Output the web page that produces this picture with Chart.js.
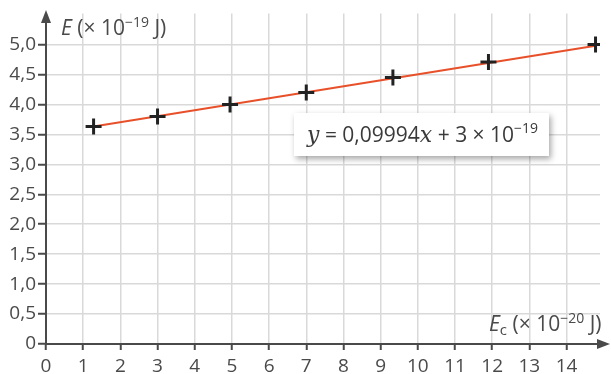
<!DOCTYPE html>
<html>
<head>
<meta charset="utf-8">
<script src="https://cdn.jsdelivr.net/npm/chart.js@4"></script>
<style>
  html, body { margin: 0; padding: 0; background: #fff; }
  #wrap { width: 611px; height: 374px; position: relative; }
</style>
</head>
<body>
<div id="wrap"><canvas id="chart"></canvas></div>
<script>
// measured points: Ec (x 10^-20 J) and E (x 10^-19 J)
var ecValues = [1.28, 3.0, 4.95, 7.0, 9.33, 11.9, 14.78];
var eValues = [3.63, 3.80, 4.00, 4.20, 4.45, 4.71, 5.00];
// ends of the fitted line
var fitX = [1.28, 14.78];
var fitY = [3.63, 4.98];
var xTicks = [0, 1, 2, 3, 4, 5, 6, 7, 8, 9, 10, 11, 12, 13, 14];
var yTicks = [0, 0.5, 1, 1.5, 2, 2.5, 3, 3.5, 4, 4.5, 5];

var labelFont = '"Open Sans", sans-serif';
var textColor = "#4a4a4a";

var points = ecValues.map(function (x, i) { return { x: x, y: eValues[i] }; });
var fitLine = fitX.map(function (x, i) { return { x: x, y: fitY[i] }; });

var fmt = function (v) {
    if (v === 0) return "0";
    return v.toFixed(1).replace(".", ",");
};

// draws text pieces one after another: [text, style, dy]
var drawRuns = function (ctx, x, y, runs) {
    runs.forEach(function (r) {
        ctx.font = r[1];
        ctx.fillText(r[0], x, y + (r[2] || 0));
        x += ctx.measureText(r[0]).width;
    });
};

var decorations = {
    id: "decorations",
    afterDraw: function (chart) {
        var ctx = chart.ctx;
        var xs = chart.scales.x, ys = chart.scales.y;
        var x0 = xs.getPixelForValue(0), y0 = ys.getPixelForValue(0);
        ctx.save();
        // axes
        ctx.strokeStyle = "#4a4a4a";
        ctx.fillStyle = "#4a4a4a";
        ctx.lineWidth = 2;
        ctx.beginPath();
        ctx.moveTo(x0, y0 + 1);
        ctx.lineTo(x0, 20);
        ctx.moveTo(x0 - 1, y0);
        ctx.lineTo(600, y0);
        ctx.stroke();
        ctx.beginPath();
        ctx.moveTo(x0, 10);
        ctx.lineTo(x0 - 5, 23);
        ctx.lineTo(x0 + 5, 23);
        ctx.closePath();
        ctx.fill();
        ctx.beginPath();
        ctx.moveTo(610, y0);
        ctx.lineTo(597, y0 - 5);
        ctx.lineTo(597, y0 + 5);
        ctx.closePath();
        ctx.fill();

        // axis titles
        ctx.fillStyle = textColor;
        ctx.textBaseline = "alphabetic";
        ctx.textAlign = "left";
        drawRuns(ctx, 61, 35, [
            ["E", "italic 21px " + labelFont],
            [" (\u00d7 10", "21px " + labelFont],
            ["\u221219", "14px " + labelFont, -8],
            [" J)", "21px " + labelFont]
        ]);
        drawRuns(ctx, 489, 331, [
            ["E", "italic 21px " + labelFont],
            ["c", "15px " + labelFont, 4],
            [" (\u00d7 10", "21px " + labelFont],
            ["\u221220", "14px " + labelFont, -8],
            [" J)", "21px " + labelFont]
        ]);

        // equation box
        ctx.shadowColor = "rgba(0,0,0,0.35)";
        ctx.shadowBlur = 6;
        ctx.shadowOffsetX = 2;
        ctx.shadowOffsetY = 3;
        ctx.fillStyle = "#fff";
        ctx.fillRect(294, 113, 255, 43);
        ctx.shadowColor = "transparent";
        ctx.fillStyle = "#3a3a3a";
        drawRuns(ctx, 307, 142, [
            ["y", "italic 22px \"DejaVu Serif\", serif"],
            [" = 0,09994", "21px " + labelFont],
            ["x", "italic 22px \"DejaVu Serif\", serif"],
            [" + 3 \u00d7 10", "21px " + labelFont],
            ["\u221219", "14px " + labelFont, -9]
        ]);
        ctx.restore();
    }
};

new Chart(document.getElementById("chart"), {
    type: "scatter",
    data: {
        datasets: [
            {
                type: "line",
                data: fitLine,
                borderColor: "#e8502a",
                borderWidth: 2,
                pointRadius: 0,
                order: 2
            },
            {
                data: points,
                pointStyle: "cross",
                pointRadius: 8,
                borderWidth: 3,
                borderColor: "#222",
                backgroundColor: "#222",
                order: 1
            }
        ]
    },
    options: {
        responsive: true,
        maintainAspectRatio: false,
        animation: false,
        layout: { padding: { top: 13, right: 5, left: 0, bottom: 0 } },
        plugins: { legend: { display: false }, tooltip: { enabled: false } },
        scales: {
            x: {
                type: "linear",
                min: 0,
                max: 14.9,
                afterBuildTicks: function (axis) {
                    axis.ticks = xTicks.map(function (v) { return { value: v }; });
                },
                afterFit: function (axis) { axis.height = 30; },
                border: { display: false },
                grid: { color: "#d9d9d9", lineWidth: 1.5, tickColor: "#4a4a4a", tickLength: 6, tickWidth: 2 },
                ticks: {
                    padding: 5,
                    color: textColor,
                    font: { family: labelFont, size: 19 },
                    maxRotation: 0,
                    autoSkip: false,
                    callback: function (v) { return String(v); }
                }
            },
            y: {
                type: "linear",
                min: 0,
                max: 5.52,
                afterBuildTicks: function (axis) {
                    axis.ticks = yTicks.map(function (v) { return { value: v }; });
                },
                afterFit: function (axis) { axis.width = 46; },
                border: { display: false },
                grid: { color: "#d9d9d9", lineWidth: 1.5, tickColor: "#4a4a4a", tickLength: 8, tickWidth: 2 },
                ticks: {
                    padding: 2,
                    color: textColor,
                    font: { family: labelFont, size: 19 },
                    autoSkip: false,
                    callback: function (v) { return fmt(v); }
                }
            }
        }
    },
    plugins: [decorations]
});
</script>
</body>
</html>
